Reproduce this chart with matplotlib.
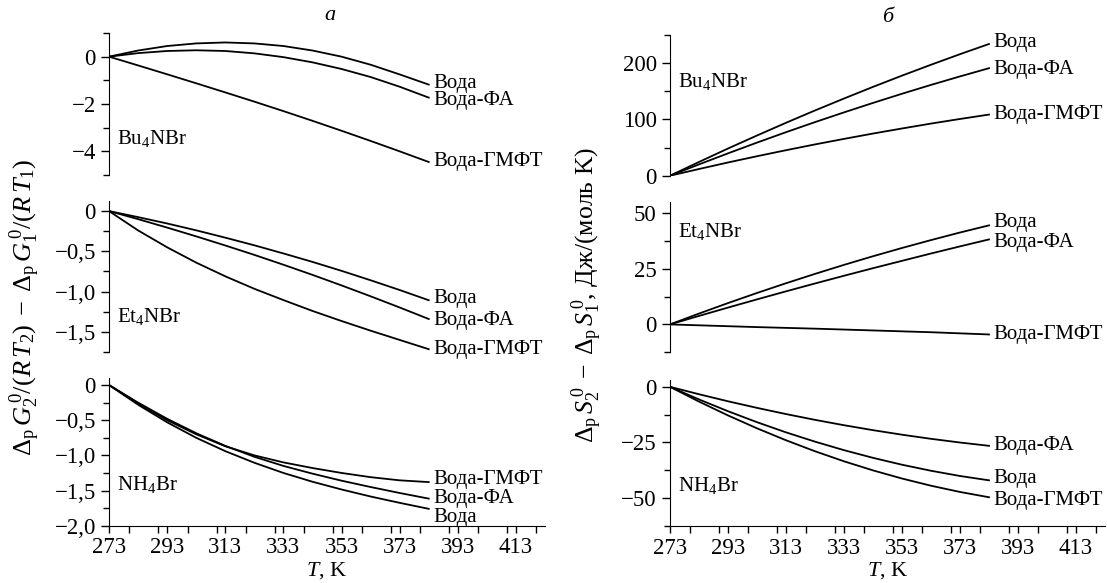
# -*- coding: utf-8 -*-
import matplotlib
matplotlib.use("Agg")
import matplotlib.pyplot as plt
from matplotlib.ticker import MultipleLocator, FuncFormatter

plt.rcParams["font.family"] = ["Liberation Serif", "DejaVu Serif"]
plt.rcParams["mathtext.fontset"] = "custom"
plt.rcParams["mathtext.rm"] = "Liberation Serif"
plt.rcParams["mathtext.it"] = "Liberation Serif:italic"
plt.rcParams["font.size"] = 15

# temperature grid, K
T = [273, 283, 293, 303, 313, 323, 333, 343, 353, 363, 373, 383]
labels = ["Вода", "Вода-ФА", "Вода-ГМФТ"]

# (a) Gibbs energy difference
g_bu_voda = [0, 0.26, 0.45, 0.56, 0.60, 0.56, 0.45, 0.26, 0.0, -0.34, -0.75, -1.18]
g_bu_fa = [0, 0.15, 0.24, 0.27, 0.24, 0.14, -0.02, -0.24, -0.52, -0.86, -1.27, -1.73]
g_bu_gmft = [0, -0.37, -0.745, -1.125, -1.51, -1.90, -2.30, -2.71, -3.13, -3.56, -4.00, -4.45]

g_et_voda = [0, -0.075, -0.154, -0.239, -0.330, -0.425, -0.526, -0.631, -0.742, -0.859, -0.980, -1.107]
g_et_fa = [0, -0.100, -0.205, -0.314, -0.427, -0.544, -0.666, -0.792, -0.923, -1.058, -1.197, -1.34]
g_et_gmft = [0, -0.24, -0.45, -0.64, -0.81, -0.965, -1.105, -1.24, -1.365, -1.485, -1.60, -1.715]

g_nh_voda = [0, -0.28, -0.53, -0.75, -0.94, -1.105, -1.25, -1.375, -1.485, -1.585, -1.675, -1.76]
g_nh_fa = [0, -0.25, -0.48, -0.685, -0.865, -1.02, -1.15, -1.26, -1.36, -1.45, -1.535, -1.615]
g_nh_gmft = [0, -0.26, -0.50, -0.70, -0.87, -1.00, -1.10, -1.18, -1.25, -1.31, -1.355, -1.38]

# (б) entropy difference, J/(mol K)
s_bu_voda = [0, 24.4, 48.3, 71.4, 94.0, 115.9, 137.1, 157.8, 177.8, 197.1, 215.9, 234]
s_bu_fa = [0, 20.1, 39.7, 58.8, 77.3, 95.2, 112.5, 129.3, 145.6, 161.3, 176.4, 191]
s_bu_gmft = [0, 11.9, 23.5, 34.6, 45.3, 55.6, 65.4, 74.9, 83.9, 92.6, 100.8, 108.6]

s_et_voda = [0, 4.86, 9.56, 14.09, 18.45, 22.65, 26.69, 30.56, 34.26, 37.8, 41.2, 44.4]
s_et_fa = [0, 3.81, 7.55, 11.22, 14.82, 18.35, 21.81, 25.2, 28.5, 31.79, 34.98, 38.1]
s_et_gmft = [0, -0.4, -0.8, -1.2, -1.55, -1.9, -2.3, -2.7, -3.1, -3.5, -4.0, -4.5]

s_nh_voda = [0, -5.67, -10.96, -15.89, -20.45, -24.63, -28.45, -31.9, -34.99, -37.7, -40.05, -42.0]
s_nh_fa = [0, -3.34, -6.5, -9.46, -12.24, -14.84, -17.25, -19.47, -21.51, -23.36, -25.02, -26.5]
s_nh_gmft = [0, -6.64, -12.85, -18.64, -24.0, -28.94, -33.45, -37.53, -41.19, -44.42, -47.22, -49.6]


def comma_fmt(v, pos):
    if abs(v) < 1e-9:
        return "0"
    s = "%.1f" % v
    return s.replace(".", ",").replace("-", "\u2212")


def int_fmt(v, pos):
    if abs(v) < 1e-9:
        return "0"
    return ("%d" % round(v)).replace("-", "\u2212")


def panel(rect, series, name, name_y, ylim, major, minor, fmt, nudge=(0, 0, 0), bottom=False):
    ax = fig.add_axes(rect)
    for ys, lab, dy in zip(series, labels, nudge):
        ax.plot(T, ys, color="black", lw=1.3)
        # curve name just right of the line end, nudged a little where names crowd
        ax.annotate(lab, (T[-1], ys[-1]), xytext=(3, dy), textcoords="offset points",
                    ha="left", va="center", fontsize=15)
    ax.text(0.018, name_y, name, transform=ax.transAxes, ha="left", va="center", fontsize=15)
    ax.set_xlim(273, 423)
    ax.set_ylim(*ylim)
    ax.yaxis.set_major_locator(MultipleLocator(major))
    ax.yaxis.set_minor_locator(MultipleLocator(minor))
    ax.yaxis.set_major_formatter(FuncFormatter(fmt))
    ax.spines["top"].set_visible(False)
    ax.spines["right"].set_visible(False)
    ax.tick_params(axis="y", which="major", length=6, width=1, labelsize=16.5)
    ax.tick_params(axis="y", which="minor", length=4.5, width=1)
    if bottom:
        ax.set_xticks(range(273, 414, 20))
        ax.xaxis.set_minor_locator(MultipleLocator(10))
        ax.tick_params(axis="x", which="major", length=5, width=1, labelsize=16.5)
        ax.tick_params(axis="x", which="minor", length=5, width=1)
        ax.set_xlabel(r"$T$, K", fontsize=16, labelpad=1)
    else:
        ax.spines["bottom"].set_visible(False)
        ax.set_xticks([])
        ax.xaxis.set_minor_locator(plt.NullLocator())
    return ax


fig = plt.figure(figsize=(11.07, 5.83), dpi=100)

lx, lw_ = 0.0985, 0.3938
rx, rw = 0.6052, 0.393

panel([lx, 0.6998, lw_, 0.2436], [g_bu_voda, g_bu_fa, g_bu_gmft], "Bu$_4$NBr", 0.26,
      (-5, 1), 2, 1, int_fmt, nudge=(1, -2, 0))
panel([lx, 0.3962, lw_, 0.259], [g_et_voda, g_et_fa, g_et_gmft], "Et$_4$NBr", 0.234,
      (-1.75, 0.125), 0.5, 0.25, comma_fmt, nudge=(1, -1, 0))
panel([lx, 0.0983, lw_, 0.2533], [g_nh_voda, g_nh_fa, g_nh_gmft], "NH$_4$Br", 0.276,
      (-2.0, 0.1), 0.5, 0.25, comma_fmt, nudge=(-6, 0, 2), bottom=True)

panel([rx, 0.6986, rw, 0.2414], [s_bu_voda, s_bu_fa, s_bu_gmft], "Bu$_4$NBr", 0.668,
      (0, 250), 100, 50, int_fmt, nudge=(1, -1, 0))
panel([rx, 0.3957, rw, 0.2583], [s_et_voda, s_et_fa, s_et_gmft], "Et$_4$NBr", 0.80,
      (-12.5, 55), 25, 12.5, int_fmt, nudge=(2, -2, 0))
panel([rx, 0.0978, rw, 0.2502], [s_nh_voda, s_nh_fa, s_nh_gmft], "NH$_4$Br", 0.28,
      (-62.5, 3), 25, 12.5, int_fmt, nudge=(1, 0, -2), bottom=True)

fig.text(0.298, 0.974, "а", style="italic", ha="center", va="center", fontsize=16)
fig.text(0.802, 0.970, "б", style="italic", ha="center", va="center", fontsize=16)

fig.text(0.023, 0.473,
         r"$\Delta_\mathrm{p}\,G_2^{\,0}/(R\,T_2)\;-\;\Delta_\mathrm{p}\,G_1^{\,0}/(R\,T_1)$",
         rotation=90, ha="center", va="center", fontsize=19)
fig.text(0.531, 0.494,
         r"$\Delta_\mathrm{p}\,S_2^{\,0}\;-\;\Delta_\mathrm{p}\,S_1^{\,0}$, Дж/(моль K)",
         rotation=90, ha="center", va="center", fontsize=18.5)

plt.savefig("out.png", dpi=100)
